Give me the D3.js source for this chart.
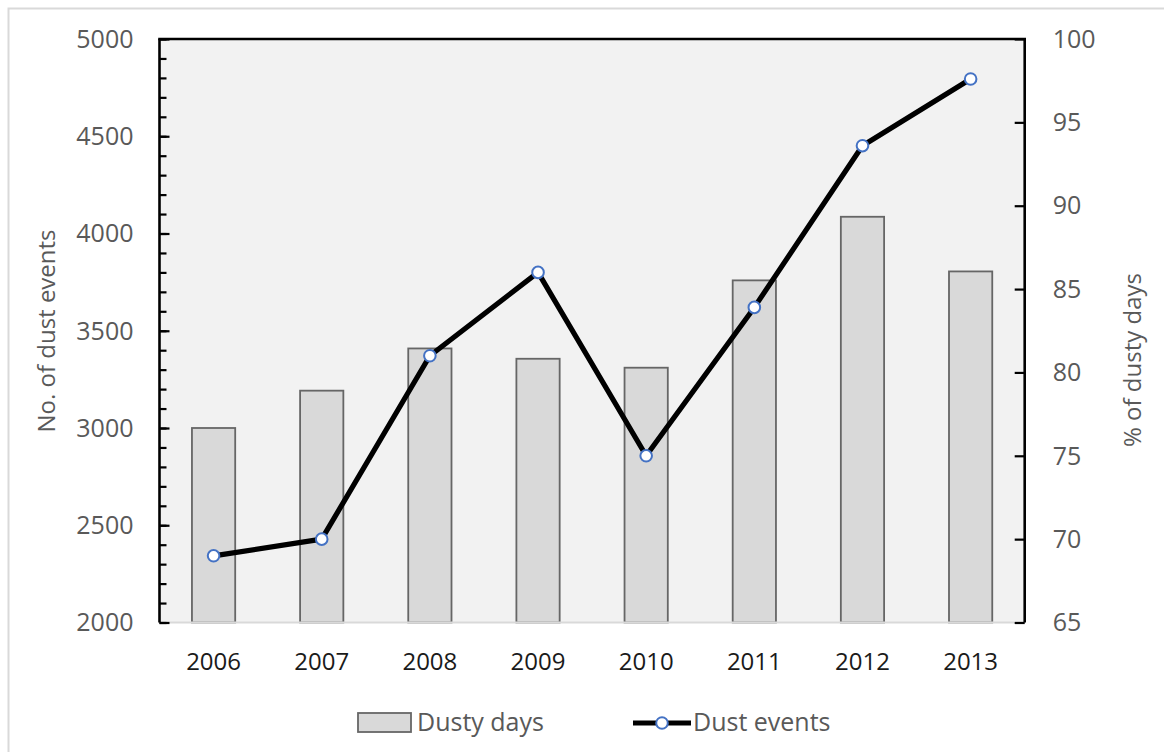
<!DOCTYPE html>
<html>
<head>
<meta charset="utf-8">
<script src="https://cdn.jsdelivr.net/npm/d3@7"></script>
<style>
  html, body { margin: 0; padding: 0; background: #fff; }
  svg { display: block; font-family: "Open Sans", "Noto Sans", sans-serif; }
</style>
</head>
<body>
<svg id="chart" width="1164" height="752"></svg>
<script>
// Years on the category axis
const years = ["2006", "2007", "2008", "2009", "2010", "2011", "2012", "2013"];
// Bars (left axis)
const dustyDays = [3000, 3192, 3409, 3356, 3310, 3759, 4086, 3805];
// Line (right axis)
const dustEvents = [69.0, 70.0, 81.0, 86.0, 75.0, 83.9, 93.6, 97.6];
// Axis ticks
const leftTicks = [2000, 2500, 3000, 3500, 4000, 4500, 5000];
const leftMinorTicks = d3.range(2000, 5001, 100);
const rightTicks = [65, 70, 75, 80, 85, 90, 95, 100];

const svg = d3.select("#chart");
const plot = { left: 159.5, right: 1024.7, top: 39, bottom: 622.5 };

const x = d3.scaleBand().domain(years).range([plot.left, plot.right])
  .paddingInner(0.6).paddingOuter(0.3);
const yL = d3.scaleLinear().domain([2000, 5000]).range([plot.bottom, plot.top]);
const yR = d3.scaleLinear().domain([65, 100]).range([plot.bottom, plot.top]);

// chart frame
svg.append("rect").attr("x", 8.5).attr("y", 8.5).attr("width", 1200).attr("height", 800)
  .attr("fill", "#fff").attr("stroke", "#d9d9d9").attr("stroke-width", 2);

// plot background
svg.append("rect").attr("x", plot.left).attr("y", plot.top)
  .attr("width", plot.right - plot.left).attr("height", plot.bottom - plot.top)
  .attr("fill", "#f2f2f2");

// bars
svg.append("g").selectAll("rect").data(years).join("rect")
  .attr("x", d => x(d))
  .attr("y", (d, i) => yL(dustyDays[i]))
  .attr("width", x.bandwidth())
  .attr("height", (d, i) => yL(2000) - yL(dustyDays[i]))
  .attr("fill", "#d9d9d9").attr("stroke", "#666").attr("stroke-width", 1.8);

// bottom baseline
svg.append("line").attr("x1", plot.left).attr("x2", plot.right)
  .attr("y1", plot.bottom).attr("y2", plot.bottom)
  .attr("stroke", "#d9d9d9").attr("stroke-width", 2);

// top border
svg.append("line").attr("x1", plot.left - 1.3).attr("x2", plot.right + 1.3)
  .attr("y1", plot.top).attr("y2", plot.top)
  .attr("stroke", "#000").attr("stroke-width", 2.6);

// left axis
const gL = svg.append("g").attr("transform", `translate(${plot.left},0)`);
gL.append("g").call(d3.axisRight(yL).tickValues(leftMinorTicks).tickSize(7).tickFormat(""))
  .call(g => g.select(".domain").remove())
  .call(g => g.selectAll("line").attr("stroke", "#000").attr("stroke-width", 2.2));
gL.append("g").call(d3.axisRight(yL).tickValues(leftTicks).tickSize(10).tickFormat(""))
  .call(g => g.select(".domain").remove())
  .call(g => g.selectAll("line").attr("stroke", "#000").attr("stroke-width", 2.2));
gL.append("line").attr("y1", plot.top).attr("y2", plot.bottom)
  .attr("stroke", "#000").attr("stroke-width", 2.6);
gL.append("g").selectAll("text").data(leftTicks).join("text")
  .attr("x", -26).attr("y", d => yL(d)).attr("dy", "0.35em")
  .attr("text-anchor", "end").attr("fill", "#595959").attr("font-size", 25)
  .text(d => d);

// right axis
const gR = svg.append("g").attr("transform", `translate(${plot.right},0)`);
gR.append("g").call(d3.axisLeft(yR).tickValues(rightTicks).tickSize(10).tickFormat(""))
  .call(g => g.select(".domain").remove())
  .call(g => g.selectAll("line").attr("stroke", "#000").attr("stroke-width", 2.2));
gR.append("line").attr("y1", plot.top).attr("y2", plot.bottom)
  .attr("stroke", "#000").attr("stroke-width", 2.6);
gR.append("g").selectAll("text").data(rightTicks).join("text")
  .attr("x", 28).attr("y", d => yR(d)).attr("dy", "0.35em")
  .attr("text-anchor", "start").attr("fill", "#595959").attr("font-size", 25)
  .text(d => d);

// category labels
svg.append("g").selectAll("text").data(years).join("text")
  .attr("x", d => x(d) + x.bandwidth() / 2).attr("y", 662).attr("dy", "0.35em")
  .attr("text-anchor", "middle").attr("fill", "#1a1a1a").attr("font-size", 24)
  .text(d => d);

// axis titles
svg.append("text").attr("transform", "translate(47,331) rotate(-90)")
  .attr("text-anchor", "middle").attr("dy", "0.35em")
  .attr("fill", "#595959").attr("font-size", 24).text("No. of dust events");
svg.append("text").attr("transform", "translate(1133,360) rotate(-90)")
  .attr("text-anchor", "middle").attr("dy", "0.35em")
  .attr("fill", "#595959").attr("font-size", 24).text("% of dusty days");

// line series
const line = d3.line().x((d, i) => x(years[i]) + x.bandwidth() / 2).y(d => yR(d));
svg.append("path").datum(dustEvents).attr("d", line)
  .attr("fill", "none").attr("stroke", "#000").attr("stroke-width", 5.2)
  .attr("stroke-linejoin", "round");
svg.append("g").selectAll("circle").data(dustEvents).join("circle")
  .attr("cx", (d, i) => x(years[i]) + x.bandwidth() / 2).attr("cy", d => yR(d))
  .attr("r", 5.8).attr("fill", "#fff").attr("stroke", "#4472c4").attr("stroke-width", 2);

// legend
const lg = svg.append("g");
lg.append("rect").attr("x", 358).attr("y", 713).attr("width", 53).attr("height", 19)
  .attr("fill", "#d9d9d9").attr("stroke", "#666").attr("stroke-width", 1.8);
lg.append("text").attr("x", 417).attr("y", 722).attr("dy", "0.35em")
  .attr("fill", "#595959").attr("font-size", 25).text("Dusty days");
lg.append("line").attr("x1", 633).attr("x2", 691).attr("y1", 723).attr("y2", 723)
  .attr("stroke", "#000").attr("stroke-width", 5.2);
lg.append("circle").attr("cx", 662).attr("cy", 723).attr("r", 5.8)
  .attr("fill", "#fff").attr("stroke", "#4472c4").attr("stroke-width", 2);
lg.append("text").attr("x", 693).attr("y", 722).attr("dy", "0.35em")
  .attr("fill", "#595959").attr("font-size", 25).text("Dust events");
</script>
</body>
</html>
